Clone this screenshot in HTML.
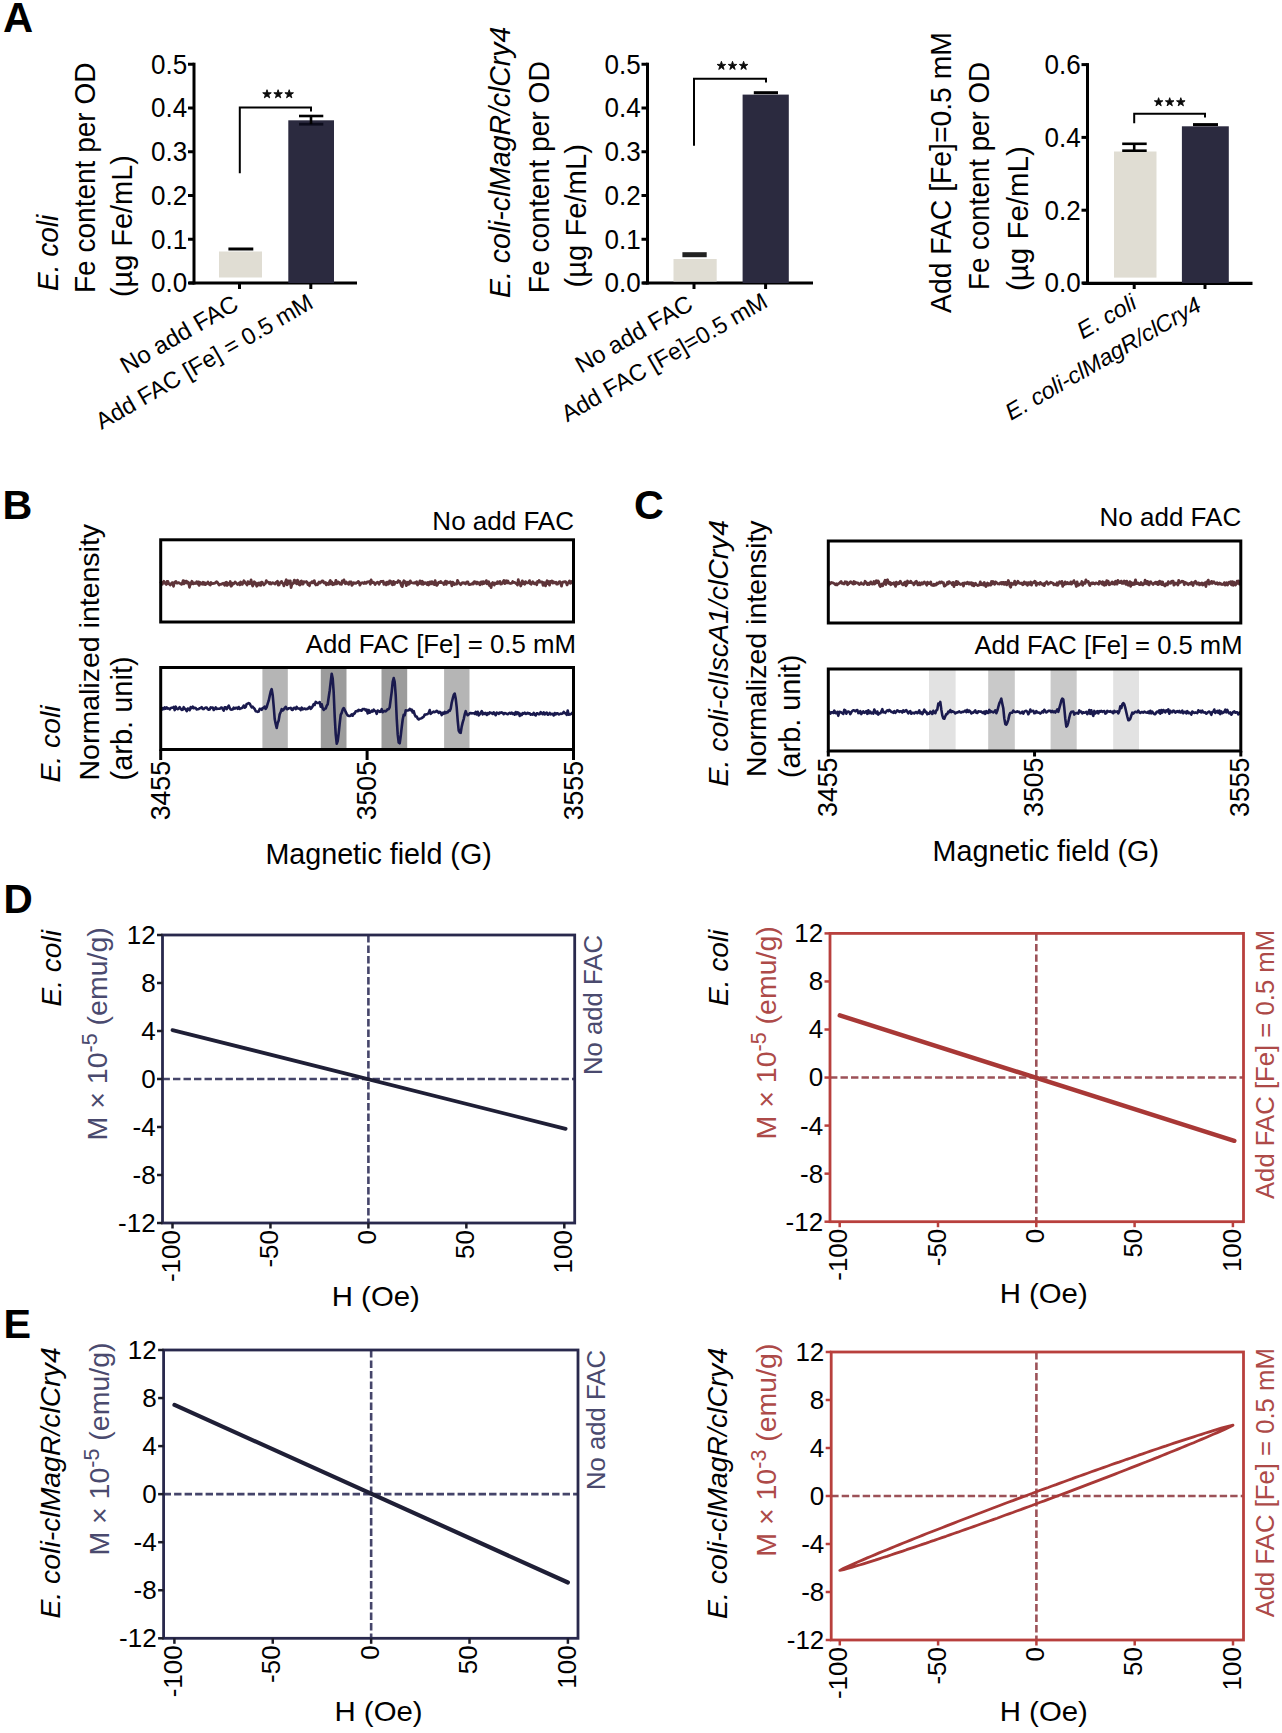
<!DOCTYPE html>
<html><head><meta charset="utf-8"><title>Figure</title>
<style>
html,body{margin:0;padding:0;background:#fff;}
svg{display:block;}
text{font-family:"Liberation Sans", sans-serif;}
</style></head>
<body>
<svg width="1282" height="1733" viewBox="0 0 1282 1733" font-family='"Liberation Sans", sans-serif'>
<rect x="0" y="0" width="1282" height="1733" fill="#fff"/>
<text x="3.00" y="32.00" font-size="41.8" text-anchor="start" fill="#000" font-weight="bold" >A</text>
<text x="2.50" y="519.00" font-size="41.3" text-anchor="start" fill="#000" font-weight="bold" >B</text>
<text x="634.00" y="519.00" font-size="41.3" text-anchor="start" fill="#000" font-weight="bold" >C</text>
<text x="3.50" y="912.50" font-size="40.5" text-anchor="start" fill="#000" font-weight="bold" >D</text>
<text x="3.50" y="1337.50" font-size="41.3" text-anchor="start" fill="#000" font-weight="bold" >E</text>
<line x1="194.00" y1="62.70" x2="194.00" y2="284.50" stroke="#000" stroke-width="3" />
<line x1="188.00" y1="283.00" x2="194.00" y2="283.00" stroke="#000" stroke-width="3" />
<text x="0" y="0" transform="translate(187.20,292.40) scale(0.930,1)" font-size="28" text-anchor="end" fill="#000" >0.0</text>
<line x1="188.00" y1="239.25" x2="194.00" y2="239.25" stroke="#000" stroke-width="3" />
<text x="0" y="0" transform="translate(187.20,248.65) scale(0.930,1)" font-size="28" text-anchor="end" fill="#000" >0.1</text>
<line x1="188.00" y1="195.50" x2="194.00" y2="195.50" stroke="#000" stroke-width="3" />
<text x="0" y="0" transform="translate(187.20,204.90) scale(0.930,1)" font-size="28" text-anchor="end" fill="#000" >0.2</text>
<line x1="188.00" y1="151.75" x2="194.00" y2="151.75" stroke="#000" stroke-width="3" />
<text x="0" y="0" transform="translate(187.20,161.15) scale(0.930,1)" font-size="28" text-anchor="end" fill="#000" >0.3</text>
<line x1="188.00" y1="108.00" x2="194.00" y2="108.00" stroke="#000" stroke-width="3" />
<text x="0" y="0" transform="translate(187.20,117.40) scale(0.930,1)" font-size="28" text-anchor="end" fill="#000" >0.4</text>
<line x1="188.00" y1="64.25" x2="194.00" y2="64.25" stroke="#000" stroke-width="3" />
<text x="0" y="0" transform="translate(187.20,73.65) scale(0.930,1)" font-size="28" text-anchor="end" fill="#000" >0.5</text>
<line x1="189.00" y1="283.00" x2="357.00" y2="283.00" stroke="#000" stroke-width="3.2" />
<line x1="239.50" y1="283.00" x2="239.50" y2="289.00" stroke="#000" stroke-width="3" />
<line x1="310.80" y1="283.00" x2="310.80" y2="289.00" stroke="#000" stroke-width="3" />
<rect x="219.00" y="251.50" width="43.00" height="26.00" fill="#e0ddd3"/>
<line x1="228.40" y1="249.00" x2="253.30" y2="249.00" stroke="#000" stroke-width="3" />
<rect x="288.30" y="120.30" width="45.70" height="162.70" fill="#2b2a3f"/>
<line x1="299.00" y1="116.00" x2="323.30" y2="116.00" stroke="#000" stroke-width="2.6" />
<line x1="299.00" y1="124.20" x2="323.30" y2="124.20" stroke="#0c0c1c" stroke-width="2.8" />
<line x1="311.00" y1="116.00" x2="311.00" y2="124.20" stroke="#000" stroke-width="2.6" />
<path d="M239.8,173.3 V107.4 H311 V111.5" stroke="#000" stroke-width="2" fill="none" />
<path d="M267.00,89.70 L268.03,92.78 L271.28,92.81 L268.66,94.74 L269.65,97.84 L267.00,95.95 L264.35,97.84 L265.34,94.74 L262.72,92.81 L265.97,92.78 Z" fill="#0a0a0a" stroke="#0a0a0a" stroke-width="0.9" stroke-linejoin="round"/>
<path d="M278.10,89.70 L279.13,92.78 L282.38,92.81 L279.76,94.74 L280.75,97.84 L278.10,95.95 L275.45,97.84 L276.44,94.74 L273.82,92.81 L277.07,92.78 Z" fill="#0a0a0a" stroke="#0a0a0a" stroke-width="0.9" stroke-linejoin="round"/>
<path d="M289.20,89.70 L290.23,92.78 L293.48,92.81 L290.86,94.74 L291.85,97.84 L289.20,95.95 L286.55,97.84 L287.54,94.74 L284.92,92.81 L288.17,92.78 Z" fill="#0a0a0a" stroke="#0a0a0a" stroke-width="0.9" stroke-linejoin="round"/>
<text x="0" y="0" transform="translate(58.00,291.00) rotate(-90) scale(0.950,1)" font-size="29.5" text-anchor="start" fill="#000" font-style="italic" >E. coli</text>
<text x="0" y="0" transform="translate(94.80,293.00) rotate(-90) scale(0.950,1)" font-size="29.5" text-anchor="start" fill="#000" >Fe content per OD</text>
<text x="0" y="0" transform="translate(131.80,297.00) rotate(-90) scale(0.980,1)" font-size="29.5" text-anchor="start" fill="#000" >(µg Fe/mL)</text>
<text x="0" y="0" transform="translate(240.00,308.50) rotate(-30)" font-size="24.1" text-anchor="end" fill="#000" >No add FAC</text>
<text x="0" y="0" transform="translate(314.80,307.00) rotate(-30)" font-size="23.5" text-anchor="end" fill="#000" >Add FAC [Fe] = 0.5 mM</text>
<line x1="647.50" y1="62.70" x2="647.50" y2="284.50" stroke="#000" stroke-width="3" />
<line x1="641.50" y1="283.00" x2="647.50" y2="283.00" stroke="#000" stroke-width="3" />
<text x="0" y="0" transform="translate(640.70,292.40) scale(0.930,1)" font-size="28" text-anchor="end" fill="#000" >0.0</text>
<line x1="641.50" y1="239.25" x2="647.50" y2="239.25" stroke="#000" stroke-width="3" />
<text x="0" y="0" transform="translate(640.70,248.65) scale(0.930,1)" font-size="28" text-anchor="end" fill="#000" >0.1</text>
<line x1="641.50" y1="195.50" x2="647.50" y2="195.50" stroke="#000" stroke-width="3" />
<text x="0" y="0" transform="translate(640.70,204.90) scale(0.930,1)" font-size="28" text-anchor="end" fill="#000" >0.2</text>
<line x1="641.50" y1="151.75" x2="647.50" y2="151.75" stroke="#000" stroke-width="3" />
<text x="0" y="0" transform="translate(640.70,161.15) scale(0.930,1)" font-size="28" text-anchor="end" fill="#000" >0.3</text>
<line x1="641.50" y1="108.00" x2="647.50" y2="108.00" stroke="#000" stroke-width="3" />
<text x="0" y="0" transform="translate(640.70,117.40) scale(0.930,1)" font-size="28" text-anchor="end" fill="#000" >0.4</text>
<line x1="641.50" y1="64.25" x2="647.50" y2="64.25" stroke="#000" stroke-width="3" />
<text x="0" y="0" transform="translate(640.70,73.65) scale(0.930,1)" font-size="28" text-anchor="end" fill="#000" >0.5</text>
<line x1="642.50" y1="283.00" x2="813.00" y2="283.00" stroke="#000" stroke-width="3.2" />
<line x1="694.00" y1="283.00" x2="694.00" y2="289.00" stroke="#000" stroke-width="3" />
<line x1="765.60" y1="283.00" x2="765.60" y2="289.00" stroke="#000" stroke-width="3" />
<rect x="673.50" y="259.00" width="43.20" height="22.50" fill="#e0ddd3"/>
<line x1="682.40" y1="254.70" x2="706.70" y2="254.70" stroke="#222" stroke-width="5" />
<rect x="742.60" y="94.60" width="46.20" height="188.40" fill="#2b2a3f"/>
<line x1="753.80" y1="92.70" x2="778.00" y2="92.70" stroke="#000" stroke-width="3" />
<path d="M694,145.7 V78.7 H766 V82.5" stroke="#000" stroke-width="2" fill="none" />
<path d="M721.40,61.30 L722.43,64.38 L725.68,64.41 L723.06,66.34 L724.05,69.44 L721.40,67.55 L718.75,69.44 L719.74,66.34 L717.12,64.41 L720.37,64.38 Z" fill="#0a0a0a" stroke="#0a0a0a" stroke-width="0.9" stroke-linejoin="round"/>
<path d="M732.50,61.30 L733.53,64.38 L736.78,64.41 L734.16,66.34 L735.15,69.44 L732.50,67.55 L729.85,69.44 L730.84,66.34 L728.22,64.41 L731.47,64.38 Z" fill="#0a0a0a" stroke="#0a0a0a" stroke-width="0.9" stroke-linejoin="round"/>
<path d="M743.60,61.30 L744.63,64.38 L747.88,64.41 L745.26,66.34 L746.25,69.44 L743.60,67.55 L740.95,69.44 L741.94,66.34 L739.32,64.41 L742.57,64.38 Z" fill="#0a0a0a" stroke="#0a0a0a" stroke-width="0.9" stroke-linejoin="round"/>
<text x="0" y="0" transform="translate(510.00,298.00) rotate(-90) scale(0.963,1)" font-size="29.5" text-anchor="start" fill="#000" font-style="italic" >E. coli-clMagR/clCry4</text>
<text x="0" y="0" transform="translate(549.00,293.30) rotate(-90) scale(0.957,1)" font-size="29.5" text-anchor="start" fill="#000" >Fe content per OD</text>
<text x="0" y="0" transform="translate(586.30,287.50) rotate(-90) scale(0.990,1)" font-size="29.5" text-anchor="start" fill="#000" >(µg Fe/mL)</text>
<text x="0" y="0" transform="translate(694.50,308.50) rotate(-30)" font-size="24" text-anchor="end" fill="#000" >No add FAC</text>
<text x="0" y="0" transform="translate(769.10,306.00) rotate(-30)" font-size="23.5" text-anchor="end" fill="#000" >Add FAC [Fe]=0.5 mM</text>
<line x1="1087.50" y1="63.10" x2="1087.50" y2="284.50" stroke="#000" stroke-width="3" />
<line x1="1081.50" y1="283.00" x2="1087.50" y2="283.00" stroke="#000" stroke-width="3" />
<text x="0" y="0" transform="translate(1080.70,292.40) scale(0.930,1)" font-size="28" text-anchor="end" fill="#000" >0.0</text>
<line x1="1081.50" y1="210.20" x2="1087.50" y2="210.20" stroke="#000" stroke-width="3" />
<text x="0" y="0" transform="translate(1080.70,219.60) scale(0.930,1)" font-size="28" text-anchor="end" fill="#000" >0.2</text>
<line x1="1081.50" y1="137.40" x2="1087.50" y2="137.40" stroke="#000" stroke-width="3" />
<text x="0" y="0" transform="translate(1080.70,146.80) scale(0.930,1)" font-size="28" text-anchor="end" fill="#000" >0.4</text>
<line x1="1081.50" y1="64.60" x2="1087.50" y2="64.60" stroke="#000" stroke-width="3" />
<text x="0" y="0" transform="translate(1080.70,74.00) scale(0.930,1)" font-size="28" text-anchor="end" fill="#000" >0.6</text>
<line x1="1082.50" y1="283.30" x2="1252.50" y2="283.30" stroke="#000" stroke-width="3.2" />
<line x1="1134.20" y1="283.00" x2="1134.20" y2="289.00" stroke="#000" stroke-width="3" />
<line x1="1205.00" y1="283.00" x2="1205.00" y2="289.00" stroke="#000" stroke-width="3" />
<rect x="1114.00" y="151.50" width="42.50" height="126.10" fill="#e0ddd3"/>
<line x1="1122.20" y1="143.80" x2="1146.70" y2="143.80" stroke="#000" stroke-width="2.6" />
<line x1="1122.20" y1="150.70" x2="1146.70" y2="150.70" stroke="#000" stroke-width="2.6" />
<line x1="1134.20" y1="143.80" x2="1134.20" y2="150.70" stroke="#000" stroke-width="2.6" />
<rect x="1181.90" y="126.30" width="46.90" height="156.70" fill="#2b2a3f"/>
<line x1="1193.00" y1="124.60" x2="1218.00" y2="124.60" stroke="#000" stroke-width="3" />
<path d="M1134.2,123.2 V113.8 H1205 V117.5" stroke="#000" stroke-width="2" fill="none" />
<path d="M1158.60,97.70 L1159.63,100.78 L1162.88,100.81 L1160.26,102.74 L1161.25,105.84 L1158.60,103.95 L1155.95,105.84 L1156.94,102.74 L1154.32,100.81 L1157.57,100.78 Z" fill="#0a0a0a" stroke="#0a0a0a" stroke-width="0.9" stroke-linejoin="round"/>
<path d="M1169.70,97.70 L1170.73,100.78 L1173.98,100.81 L1171.36,102.74 L1172.35,105.84 L1169.70,103.95 L1167.05,105.84 L1168.04,102.74 L1165.42,100.81 L1168.67,100.78 Z" fill="#0a0a0a" stroke="#0a0a0a" stroke-width="0.9" stroke-linejoin="round"/>
<path d="M1180.80,97.70 L1181.83,100.78 L1185.08,100.81 L1182.46,102.74 L1183.45,105.84 L1180.80,103.95 L1178.15,105.84 L1179.14,102.74 L1176.52,100.81 L1179.77,100.78 Z" fill="#0a0a0a" stroke="#0a0a0a" stroke-width="0.9" stroke-linejoin="round"/>
<text x="0" y="0" transform="translate(951.00,313.00) rotate(-90) scale(0.960,1)" font-size="29.5" text-anchor="start" fill="#000" >Add FAC [Fe]=0.5 mM</text>
<text x="0" y="0" transform="translate(989.00,290.00) rotate(-90) scale(0.940,1)" font-size="29.5" text-anchor="start" fill="#000" >Fe content per OD</text>
<text x="0" y="0" transform="translate(1027.50,291.00) rotate(-90)" font-size="29.5" text-anchor="start" fill="#000" >(µg Fe/mL)</text>
<text x="0" y="0" transform="translate(1138.20,307.50) rotate(-30)" font-size="23.5" text-anchor="end" fill="#000" font-style="italic" >E. coli</text>
<text x="0" y="0" transform="translate(1203.00,309.90) rotate(-30)" font-size="23.2" text-anchor="end" fill="#000" font-style="italic" >E. coli-clMagR/clCry4</text>
<rect x="262.40" y="667.50" width="25.40" height="82.00" fill="#b5b5b5"/>
<rect x="320.80" y="667.50" width="25.70" height="82.00" fill="#9c9c9c"/>
<rect x="381.50" y="667.50" width="25.70" height="82.00" fill="#9c9c9c"/>
<rect x="444.10" y="667.50" width="25.40" height="82.00" fill="#b5b5b5"/>
<path d="M160.7,581.4 L161.5,583.5 L162.3,584.3 L163.1,582.3 L163.9,581.3 L164.7,582.9 L165.5,583.6 L166.3,584.4 L167.1,581.4 L167.9,581.3 L168.7,583.9 L169.5,583.6 L170.3,585.0 L171.1,584.3 L171.9,582.9 L172.7,582.6 L173.5,586.3 L174.3,582.6 L175.1,582.0 L175.9,581.5 L176.7,583.1 L177.5,583.2 L178.3,582.6 L179.1,582.9 L179.9,583.4 L180.7,583.9 L181.5,584.4 L182.3,583.3 L183.1,580.7 L183.9,583.9 L184.7,581.2 L185.5,582.8 L186.3,581.1 L187.1,583.0 L187.9,582.0 L188.7,583.3 L189.5,587.3 L190.3,582.9 L191.1,584.1 L191.9,581.3 L192.7,582.6 L193.5,583.9 L194.3,582.9 L195.1,583.5 L195.9,583.1 L196.7,581.7 L197.5,583.7 L198.3,581.9 L199.1,585.4 L199.9,582.3 L200.7,583.9 L201.5,583.0 L202.3,584.2 L203.1,582.2 L203.9,584.3 L204.7,582.8 L205.5,584.6 L206.3,583.8 L207.1,583.2 L207.9,582.0 L208.7,584.0 L209.5,583.6 L210.3,585.1 L211.1,582.5 L211.9,583.7 L212.7,583.7 L213.5,583.4 L214.3,583.3 L215.1,583.2 L215.9,582.2 L216.7,581.7 L217.5,582.5 L218.3,583.8 L219.1,585.0 L219.9,584.3 L220.7,584.4 L221.5,584.0 L222.3,583.9 L223.1,583.2 L223.9,584.0 L224.7,585.3 L225.5,582.6 L226.3,582.1 L227.1,585.5 L227.9,583.3 L228.7,584.3 L229.5,584.1 L230.3,581.5 L231.1,586.2 L231.9,585.3 L232.7,583.2 L233.5,584.0 L234.3,583.2 L235.1,581.9 L235.9,582.9 L236.7,583.5 L237.5,584.5 L238.3,583.9 L239.1,583.1 L239.9,584.8 L240.7,582.0 L241.5,584.0 L242.3,584.4 L243.1,582.6 L243.9,580.7 L244.7,581.8 L245.5,583.3 L246.3,583.7 L247.1,585.0 L247.9,581.7 L248.7,583.0 L249.5,583.8 L250.3,582.8 L251.1,579.9 L251.9,584.0 L252.7,586.0 L253.5,584.3 L254.3,581.8 L255.1,582.5 L255.9,583.3 L256.7,586.2 L257.5,583.8 L258.3,583.1 L259.1,585.0 L259.9,582.9 L260.7,585.4 L261.5,582.1 L262.3,582.4 L263.1,583.9 L263.9,584.9 L264.7,583.9 L265.5,583.4 L266.3,580.6 L267.1,582.1 L267.9,582.2 L268.7,582.3 L269.5,583.8 L270.3,582.6 L271.1,584.0 L271.9,583.1 L272.7,582.6 L273.5,583.2 L274.3,583.6 L275.1,584.1 L275.9,582.4 L276.7,582.7 L277.5,581.2 L278.3,585.1 L279.1,584.9 L279.9,582.8 L280.7,582.4 L281.5,581.4 L282.3,583.2 L283.1,583.3 L283.9,585.8 L284.7,583.3 L285.5,582.0 L286.3,579.8 L287.1,584.8 L287.9,583.2 L288.7,580.9 L289.5,583.2 L290.3,580.9 L291.1,587.5 L291.9,584.5 L292.7,583.7 L293.5,582.8 L294.3,580.2 L295.1,582.8 L295.9,581.0 L296.7,583.8 L297.5,580.2 L298.3,581.8 L299.1,584.6 L299.9,585.1 L300.7,581.5 L301.5,581.0 L302.3,584.1 L303.1,584.1 L303.9,581.7 L304.7,582.1 L305.5,582.1 L306.3,581.5 L307.1,582.1 L307.9,584.6 L308.7,583.9 L309.5,585.7 L310.3,582.9 L311.1,582.8 L311.9,581.7 L312.7,582.8 L313.5,581.3 L314.3,580.7 L315.1,583.9 L315.9,584.9 L316.7,584.1 L317.5,584.7 L318.3,583.3 L319.1,582.1 L319.9,583.1 L320.7,582.5 L321.5,581.6 L322.3,580.8 L323.1,581.1 L323.9,583.0 L324.7,583.2 L325.5,582.4 L326.3,584.9 L327.1,583.2 L327.9,583.8 L328.7,584.6 L329.5,581.9 L330.3,580.4 L331.1,584.0 L331.9,582.1 L332.7,584.7 L333.5,583.4 L334.3,584.3 L335.1,584.0 L335.9,580.3 L336.7,583.9 L337.5,582.1 L338.3,582.0 L339.1,582.4 L339.9,584.0 L340.7,584.1 L341.5,584.3 L342.3,580.8 L343.1,582.2 L343.9,579.9 L344.7,582.9 L345.5,583.8 L346.3,582.0 L347.1,583.3 L347.9,583.3 L348.7,584.3 L349.5,581.9 L350.3,581.9 L351.1,582.0 L351.9,585.3 L352.7,584.4 L353.5,582.8 L354.3,583.3 L355.1,583.1 L355.9,583.3 L356.7,582.7 L357.5,582.6 L358.3,581.4 L359.1,582.2 L359.9,585.1 L360.7,583.7 L361.5,583.1 L362.3,582.7 L363.1,583.1 L363.9,583.5 L364.7,582.2 L365.5,583.3 L366.3,583.3 L367.1,582.0 L367.9,582.0 L368.7,581.7 L369.5,581.6 L370.3,584.2 L371.1,579.9 L371.9,582.7 L372.7,582.2 L373.5,582.2 L374.3,583.1 L375.1,584.5 L375.9,583.1 L376.7,582.8 L377.5,582.2 L378.3,582.8 L379.1,584.2 L379.9,582.5 L380.7,581.5 L381.5,581.4 L382.3,581.6 L383.1,581.2 L383.9,584.4 L384.7,583.5 L385.5,582.7 L386.3,584.9 L387.1,582.1 L387.9,584.0 L388.7,584.0 L389.5,581.0 L390.3,581.0 L391.1,581.8 L391.9,584.2 L392.7,584.7 L393.5,581.4 L394.3,584.4 L395.1,582.5 L395.9,582.5 L396.7,582.3 L397.5,582.6 L398.3,580.6 L399.1,581.7 L399.9,581.4 L400.7,583.6 L401.5,585.7 L402.3,586.6 L403.1,582.6 L403.9,580.8 L404.7,582.5 L405.5,581.8 L406.3,585.6 L407.1,583.7 L407.9,582.1 L408.7,584.2 L409.5,583.7 L410.3,580.9 L411.1,582.3 L411.9,582.7 L412.7,583.0 L413.5,583.2 L414.3,582.6 L415.1,583.2 L415.9,582.2 L416.7,581.8 L417.5,585.0 L418.3,583.5 L419.1,583.6 L419.9,580.9 L420.7,582.8 L421.5,584.1 L422.3,581.3 L423.1,584.4 L423.9,582.5 L424.7,583.5 L425.5,582.8 L426.3,583.3 L427.1,584.6 L427.9,582.5 L428.7,585.0 L429.5,582.0 L430.3,581.8 L431.1,583.9 L431.9,581.6 L432.7,582.5 L433.5,584.2 L434.3,584.6 L435.1,580.7 L435.9,583.7 L436.7,585.4 L437.5,584.6 L438.3,582.7 L439.1,582.2 L439.9,582.6 L440.7,581.5 L441.5,582.7 L442.3,582.8 L443.1,582.8 L443.9,584.5 L444.7,582.7 L445.5,581.1 L446.3,584.4 L447.1,581.6 L447.9,582.4 L448.7,582.8 L449.5,582.6 L450.3,581.7 L451.1,582.7 L451.9,585.8 L452.7,582.2 L453.5,582.8 L454.3,584.5 L455.1,584.0 L455.9,584.0 L456.7,584.1 L457.5,580.4 L458.3,581.9 L459.1,583.2 L459.9,583.6 L460.7,584.7 L461.5,583.6 L462.3,582.7 L463.1,583.1 L463.9,582.7 L464.7,583.3 L465.5,583.9 L466.3,582.6 L467.1,581.9 L467.9,581.9 L468.7,584.4 L469.5,584.7 L470.3,584.3 L471.1,584.1 L471.9,584.1 L472.7,583.0 L473.5,583.9 L474.3,581.6 L475.1,582.7 L475.9,582.0 L476.7,583.9 L477.5,582.2 L478.3,582.9 L479.1,583.5 L479.9,584.8 L480.7,582.0 L481.5,581.8 L482.3,584.1 L483.1,581.6 L483.9,583.6 L484.7,582.3 L485.5,582.9 L486.3,580.6 L487.1,583.9 L487.9,582.3 L488.7,581.8 L489.5,585.7 L490.3,583.9 L491.1,587.6 L491.9,583.5 L492.7,582.5 L493.5,583.1 L494.3,585.1 L495.1,583.0 L495.9,583.6 L496.7,583.7 L497.5,581.8 L498.3,583.2 L499.1,582.3 L499.9,581.4 L500.7,584.1 L501.5,583.9 L502.3,583.1 L503.1,581.8 L503.9,580.4 L504.7,583.6 L505.5,582.9 L506.3,580.8 L507.1,582.9 L507.9,581.0 L508.7,583.0 L509.5,583.2 L510.3,583.5 L511.1,583.3 L511.9,583.2 L512.7,581.5 L513.5,582.5 L514.3,582.3 L515.1,582.7 L515.9,583.4 L516.7,583.8 L517.5,585.1 L518.3,579.7 L519.1,583.5 L519.9,582.7 L520.7,586.0 L521.5,584.2 L522.3,580.9 L523.1,583.5 L523.9,582.3 L524.7,584.3 L525.5,581.6 L526.3,582.9 L527.1,582.8 L527.9,582.9 L528.7,582.2 L529.5,580.6 L530.3,583.6 L531.1,584.3 L531.9,582.9 L532.7,581.7 L533.5,583.3 L534.3,583.7 L535.1,582.8 L535.9,583.0 L536.7,584.8 L537.5,581.5 L538.3,582.3 L539.1,580.5 L539.9,582.1 L540.7,582.0 L541.5,581.8 L542.3,582.1 L543.1,585.3 L543.9,582.7 L544.7,582.9 L545.5,585.9 L546.3,582.9 L547.1,580.7 L547.9,583.5 L548.7,581.8 L549.5,585.1 L550.3,581.4 L551.1,582.2 L551.9,580.9 L552.7,583.1 L553.5,581.7 L554.3,582.9 L555.1,582.5 L555.9,582.2 L556.7,584.2 L557.5,584.2 L558.3,583.1 L559.1,581.8 L559.9,581.6 L560.7,583.4 L561.5,586.1 L562.3,582.4 L563.1,582.0 L563.9,582.1 L564.7,581.6 L565.5,581.7 L566.3,582.7 L567.1,584.9 L567.9,583.0 L568.7,582.3 L569.5,580.9 L570.3,583.3 L571.1,583.0 L571.9,581.4 L572.7,581.6" stroke="#5e3439" stroke-width="2.8" fill="none" stroke-linejoin="round"/>
<path d="M160.7,709.1 L161.7,709.8 L162.7,708.2 L163.7,709.1 L164.7,707.3 L165.7,708.6 L166.7,707.4 L167.7,708.6 L168.7,708.4 L169.7,709.3 L170.7,708.2 L171.7,707.7 L172.7,707.7 L173.7,706.9 L174.7,710.1 L175.7,706.7 L176.7,708.6 L177.7,709.2 L178.7,708.4 L179.7,707.2 L180.7,708.9 L181.7,709.9 L182.7,709.8 L183.7,707.1 L184.7,708.7 L185.7,709.3 L186.7,711.2 L187.7,708.6 L188.7,708.8 L189.7,710.1 L190.7,707.2 L191.7,708.2 L192.7,706.7 L193.7,708.2 L194.7,707.8 L195.7,708.0 L196.7,709.4 L197.7,709.3 L198.7,709.0 L199.7,708.2 L200.7,707.9 L201.7,707.2 L202.7,708.9 L203.7,709.1 L204.7,708.1 L205.7,707.5 L206.7,707.5 L207.7,709.1 L208.7,709.8 L209.7,709.4 L210.7,707.4 L211.7,707.8 L212.7,707.5 L213.7,710.0 L214.7,709.1 L215.7,707.4 L216.7,709.0 L217.7,708.8 L218.7,708.7 L219.7,708.8 L220.7,707.8 L221.7,707.5 L222.7,709.1 L223.7,710.6 L224.7,707.3 L225.7,707.2 L226.7,709.1 L227.7,707.1 L228.7,705.6 L229.7,708.0 L230.7,709.5 L231.7,709.6 L232.7,709.4 L233.7,707.7 L234.7,708.7 L235.7,707.9 L236.7,707.8 L237.7,708.8 L238.7,707.0 L239.7,709.0 L240.7,708.4 L241.7,708.1 L242.7,707.4 L243.7,705.5 L244.7,707.7 L245.7,707.0 L246.7,703.9 L247.7,703.7 L248.7,703.1 L249.7,703.7 L250.7,705.6 L251.7,707.3 L252.7,706.7 L253.7,708.0 L254.7,709.0 L255.7,711.2 L256.7,711.4 L257.7,711.9 L258.7,711.5 L259.7,708.9 L260.7,709.0 L261.7,709.8 L262.7,708.0 L263.7,707.9 L264.7,706.6 L265.7,708.9 L266.7,707.1 L267.7,703.7 L268.7,700.7 L269.7,696.0 L270.7,691.6 L271.7,689.1 L272.7,695.1 L273.7,706.4 L274.7,719.0 L275.7,723.9 L276.7,727.9 L277.7,722.9 L278.7,720.4 L279.7,714.2 L280.7,711.9 L281.7,709.2 L282.7,710.5 L283.7,709.5 L284.7,708.0 L285.7,706.8 L286.7,709.1 L287.7,709.1 L288.7,708.2 L289.7,708.3 L290.7,707.9 L291.7,709.7 L292.7,710.0 L293.7,707.9 L294.7,707.7 L295.7,709.1 L296.7,706.9 L297.7,708.4 L298.7,708.6 L299.7,708.5 L300.7,710.1 L301.7,707.7 L302.7,709.3 L303.7,708.8 L304.7,708.5 L305.7,709.3 L306.7,708.8 L307.7,708.9 L308.7,707.7 L309.7,706.8 L310.7,708.8 L311.7,707.8 L312.7,706.2 L313.7,704.2 L314.7,704.9 L315.7,701.9 L316.7,702.6 L317.7,703.0 L318.7,702.9 L319.7,702.1 L320.7,706.8 L321.7,704.3 L322.7,708.2 L323.7,709.8 L324.7,708.8 L325.7,708.6 L326.7,705.8 L327.7,704.3 L328.7,697.2 L329.7,690.5 L330.7,681.8 L331.7,673.7 L332.7,678.6 L333.7,692.7 L334.7,716.4 L335.7,734.1 L336.7,743.7 L337.7,741.0 L338.7,733.1 L339.7,723.4 L340.7,714.8 L341.7,712.9 L342.7,709.5 L343.7,708.0 L344.7,709.8 L345.7,712.0 L346.7,713.8 L347.7,715.5 L348.7,715.9 L349.7,716.0 L350.7,715.6 L351.7,714.3 L352.7,715.6 L353.7,713.6 L354.7,713.6 L355.7,711.2 L356.7,711.1 L357.7,711.3 L358.7,709.8 L359.7,710.4 L360.7,710.3 L361.7,710.7 L362.7,709.0 L363.7,709.3 L364.7,709.0 L365.7,710.4 L366.7,709.6 L367.7,713.5 L368.7,710.0 L369.7,712.7 L370.7,712.0 L371.7,710.7 L372.7,711.5 L373.7,709.7 L374.7,710.8 L375.7,711.3 L376.7,713.9 L377.7,710.6 L378.7,710.9 L379.7,711.9 L380.7,711.8 L381.7,709.1 L382.7,712.2 L383.7,711.2 L384.7,711.0 L385.7,711.4 L386.7,710.4 L387.7,709.2 L388.7,709.3 L389.7,707.2 L390.7,699.3 L391.7,691.8 L392.7,681.9 L393.7,678.0 L394.7,682.0 L395.7,695.3 L396.7,718.0 L397.7,734.4 L398.7,742.5 L399.7,743.3 L400.7,736.1 L401.7,727.3 L402.7,719.5 L403.7,714.8 L404.7,715.2 L405.7,710.4 L406.7,710.5 L407.7,710.5 L408.7,710.3 L409.7,708.9 L410.7,710.2 L411.7,709.5 L412.7,712.5 L413.7,711.1 L414.7,714.7 L415.7,716.5 L416.7,716.6 L417.7,718.6 L418.7,719.5 L419.7,718.7 L420.7,718.5 L421.7,718.1 L422.7,717.4 L423.7,716.7 L424.7,714.6 L425.7,714.7 L426.7,714.2 L427.7,713.9 L428.7,713.0 L429.7,710.1 L430.7,713.8 L431.7,712.9 L432.7,712.3 L433.7,711.5 L434.7,712.1 L435.7,711.7 L436.7,710.8 L437.7,711.6 L438.7,713.0 L439.7,711.8 L440.7,712.5 L441.7,715.1 L442.7,712.8 L443.7,713.8 L444.7,711.9 L445.7,713.2 L446.7,712.2 L447.7,712.4 L448.7,710.5 L449.7,710.9 L450.7,708.7 L451.7,702.8 L452.7,698.7 L453.7,695.0 L454.7,693.5 L455.7,698.5 L456.7,707.4 L457.7,720.5 L458.7,730.6 L459.7,732.5 L460.7,732.8 L461.7,726.6 L462.7,722.4 L463.7,719.1 L464.7,714.4 L465.7,711.2 L466.7,713.9 L467.7,715.2 L468.7,714.5 L469.7,713.3 L470.7,713.0 L471.7,713.4 L472.7,713.3 L473.7,713.2 L474.7,713.8 L475.7,711.9 L476.7,714.4 L477.7,711.8 L478.7,715.4 L479.7,714.4 L480.7,712.8 L481.7,711.2 L482.7,714.4 L483.7,712.8 L484.7,713.9 L485.7,713.0 L486.7,715.0 L487.7,713.2 L488.7,714.0 L489.7,712.3 L490.7,712.8 L491.7,713.2 L492.7,713.9 L493.7,712.3 L494.7,713.8 L495.7,715.2 L496.7,712.6 L497.7,713.0 L498.7,713.9 L499.7,712.5 L500.7,713.0 L501.7,712.4 L502.7,712.9 L503.7,714.2 L504.7,713.0 L505.7,713.2 L506.7,713.9 L507.7,714.3 L508.7,713.4 L509.7,712.9 L510.7,713.6 L511.7,712.6 L512.7,714.0 L513.7,713.3 L514.7,714.6 L515.7,712.0 L516.7,714.2 L517.7,712.3 L518.7,712.8 L519.7,715.9 L520.7,713.8 L521.7,715.0 L522.7,713.2 L523.7,713.7 L524.7,712.7 L525.7,713.9 L526.7,713.7 L527.7,712.8 L528.7,713.6 L529.7,713.3 L530.7,714.7 L531.7,714.2 L532.7,714.7 L533.7,712.9 L534.7,714.7 L535.7,715.4 L536.7,713.4 L537.7,713.4 L538.7,714.2 L539.7,714.2 L540.7,712.2 L541.7,713.3 L542.7,714.2 L543.7,712.3 L544.7,714.5 L545.7,713.2 L546.7,712.7 L547.7,714.7 L548.7,714.4 L549.7,712.9 L550.7,714.4 L551.7,713.8 L552.7,714.1 L553.7,715.5 L554.7,713.0 L555.7,714.5 L556.7,713.2 L557.7,713.3 L558.7,714.5 L559.7,714.1 L560.7,713.5 L561.7,713.9 L562.7,713.4 L563.7,711.9 L564.7,713.1 L565.7,713.2 L566.7,714.8 L567.7,710.5 L568.7,714.7 L569.7,714.5 L570.7,714.0 L571.7,713.7 L572.7,712.2" stroke="#1a1a4e" stroke-width="2.6" fill="none" stroke-linejoin="round"/>
<rect x="160.70" y="539.80" width="412.80" height="82.20" fill="none" stroke="#000" stroke-width="3"/>
<rect x="160.70" y="667.50" width="412.80" height="82.00" fill="none" stroke="#000" stroke-width="3"/>
<line x1="160.70" y1="749.50" x2="160.70" y2="760.00" stroke="#000" stroke-width="3" />
<line x1="367.10" y1="749.50" x2="367.10" y2="760.00" stroke="#000" stroke-width="3" />
<line x1="573.50" y1="749.50" x2="573.50" y2="760.00" stroke="#000" stroke-width="3" />
<text x="574.00" y="529.60" font-size="26" text-anchor="end" fill="#000" >No add FAC</text>
<text x="576.00" y="652.90" font-size="25.8" text-anchor="end" fill="#000" >Add FAC [Fe] = 0.5 mM</text>
<text x="0" y="0" transform="translate(169.70,761.00) rotate(-90) scale(0.970,1)" font-size="27.5" text-anchor="end" fill="#000" >3455</text>
<text x="0" y="0" transform="translate(376.10,761.00) rotate(-90) scale(0.970,1)" font-size="27.5" text-anchor="end" fill="#000" >3505</text>
<text x="0" y="0" transform="translate(582.50,761.00) rotate(-90) scale(0.970,1)" font-size="27.5" text-anchor="end" fill="#000" >3555</text>
<text x="378.60" y="863.80" font-size="28.7" text-anchor="middle" fill="#000" >Magnetic field (G)</text>
<text x="0" y="0" transform="translate(60.40,782.50) rotate(-90)" font-size="28.3" text-anchor="start" fill="#000" font-style="italic" >E. coli</text>
<text x="0" y="0" transform="translate(99.30,780.50) rotate(-90)" font-size="28.5" text-anchor="start" fill="#000" >Normalized intensity</text>
<text x="0" y="0" transform="translate(131.80,780.50) rotate(-90)" font-size="29" text-anchor="start" fill="#000" >(arb. unit)</text>
<rect x="929.00" y="669.00" width="26.60" height="82.00" fill="#e2e2e2"/>
<rect x="988.20" y="669.00" width="26.60" height="82.00" fill="#c9c9c9"/>
<rect x="1050.60" y="669.00" width="26.10" height="82.00" fill="#c9c9c9"/>
<rect x="1113.20" y="669.00" width="25.80" height="82.00" fill="#e2e2e2"/>
<path d="M828.3,586.3 L829.1,582.1 L829.9,583.9 L830.7,583.2 L831.5,582.4 L832.3,582.8 L833.1,582.8 L833.9,583.4 L834.7,584.0 L835.5,584.8 L836.3,583.8 L837.1,584.9 L837.9,584.0 L838.7,583.6 L839.5,583.2 L840.3,582.2 L841.1,581.4 L841.9,583.3 L842.7,583.2 L843.5,583.8 L844.3,583.9 L845.1,581.8 L845.9,582.5 L846.7,582.0 L847.5,584.7 L848.3,583.3 L849.1,583.6 L849.9,582.3 L850.7,581.8 L851.5,582.7 L852.3,583.3 L853.1,584.0 L853.9,581.5 L854.7,583.8 L855.5,582.3 L856.3,582.7 L857.1,583.0 L857.9,582.9 L858.7,584.0 L859.5,584.5 L860.3,583.8 L861.1,582.7 L861.9,583.9 L862.7,583.9 L863.5,584.5 L864.3,583.8 L865.1,581.3 L865.9,582.4 L866.7,582.9 L867.5,584.6 L868.3,583.2 L869.1,584.6 L869.9,583.8 L870.7,581.9 L871.5,583.5 L872.3,584.1 L873.1,583.9 L873.9,581.5 L874.7,584.0 L875.5,582.7 L876.3,580.7 L877.1,582.7 L877.9,580.9 L878.7,581.8 L879.5,585.3 L880.3,586.6 L881.1,584.8 L881.9,584.0 L882.7,585.8 L883.5,583.8 L884.3,582.2 L885.1,580.3 L885.9,584.6 L886.7,580.5 L887.5,579.7 L888.3,582.6 L889.1,583.5 L889.9,582.3 L890.7,584.7 L891.5,583.3 L892.3,583.7 L893.1,584.0 L893.9,582.7 L894.7,583.7 L895.5,586.4 L896.3,582.2 L897.1,583.6 L897.9,584.1 L898.7,582.7 L899.5,583.4 L900.3,581.2 L901.1,582.9 L901.9,583.5 L902.7,584.9 L903.5,584.6 L904.3,582.7 L905.1,582.0 L905.9,585.8 L906.7,584.6 L907.5,581.0 L908.3,583.0 L909.1,582.3 L909.9,582.6 L910.7,581.2 L911.5,582.9 L912.3,582.8 L913.1,583.1 L913.9,584.8 L914.7,583.7 L915.5,581.9 L916.3,581.2 L917.1,582.7 L917.9,584.9 L918.7,584.7 L919.5,582.7 L920.3,584.9 L921.1,584.0 L921.9,582.7 L922.7,584.0 L923.5,583.3 L924.3,582.0 L925.1,582.9 L925.9,583.7 L926.7,585.2 L927.5,582.1 L928.3,583.8 L929.1,583.5 L929.9,583.4 L930.7,581.9 L931.5,585.1 L932.3,585.1 L933.1,585.5 L933.9,584.1 L934.7,585.4 L935.5,584.2 L936.3,584.8 L937.1,583.0 L937.9,583.8 L938.7,583.0 L939.5,582.1 L940.3,582.9 L941.1,582.0 L941.9,582.0 L942.7,583.0 L943.5,582.7 L944.3,586.2 L945.1,585.8 L945.9,584.9 L946.7,584.5 L947.5,582.3 L948.3,583.8 L949.1,581.6 L949.9,582.6 L950.7,582.8 L951.5,583.0 L952.3,584.6 L953.1,582.4 L953.9,586.6 L954.7,582.8 L955.5,584.6 L956.3,581.4 L957.1,584.7 L957.9,581.9 L958.7,583.7 L959.5,583.5 L960.3,584.5 L961.1,584.3 L961.9,584.0 L962.7,583.3 L963.5,586.0 L964.3,582.9 L965.1,583.5 L965.9,582.9 L966.7,583.7 L967.5,582.2 L968.3,582.9 L969.1,584.1 L969.9,582.7 L970.7,584.1 L971.5,582.7 L972.3,585.3 L973.1,583.3 L973.9,585.8 L974.7,584.1 L975.5,583.3 L976.3,584.7 L977.1,585.0 L977.9,585.5 L978.7,585.3 L979.5,584.6 L980.3,581.9 L981.1,584.7 L981.9,583.4 L982.7,584.0 L983.5,585.1 L984.3,582.5 L985.1,585.2 L985.9,586.6 L986.7,584.2 L987.5,583.1 L988.3,585.3 L989.1,583.7 L989.9,584.9 L990.7,585.1 L991.5,581.5 L992.3,583.9 L993.1,581.5 L993.9,582.6 L994.7,584.3 L995.5,581.9 L996.3,582.5 L997.1,582.9 L997.9,583.9 L998.7,583.9 L999.5,584.0 L1000.3,582.8 L1001.1,582.5 L1001.9,584.0 L1002.7,582.3 L1003.5,582.4 L1004.3,584.4 L1005.1,582.4 L1005.9,582.3 L1006.7,584.9 L1007.5,583.4 L1008.3,580.5 L1009.1,582.5 L1009.9,586.0 L1010.7,587.2 L1011.5,583.1 L1012.3,584.4 L1013.1,584.4 L1013.9,583.9 L1014.7,581.1 L1015.5,584.8 L1016.3,583.8 L1017.1,583.1 L1017.9,581.3 L1018.7,582.6 L1019.5,583.3 L1020.3,583.1 L1021.1,583.7 L1021.9,582.9 L1022.7,584.8 L1023.5,584.3 L1024.3,581.9 L1025.1,582.7 L1025.9,584.0 L1026.7,582.7 L1027.5,585.3 L1028.3,582.7 L1029.1,583.8 L1029.9,584.2 L1030.7,582.0 L1031.5,585.1 L1032.3,583.2 L1033.1,582.5 L1033.9,582.5 L1034.7,581.2 L1035.5,581.7 L1036.3,585.4 L1037.1,583.3 L1037.9,583.1 L1038.7,583.7 L1039.5,584.2 L1040.3,582.4 L1041.1,583.2 L1041.9,583.8 L1042.7,584.8 L1043.5,583.8 L1044.3,585.6 L1045.1,583.2 L1045.9,583.0 L1046.7,581.6 L1047.5,583.4 L1048.3,584.3 L1049.1,583.1 L1049.9,583.2 L1050.7,582.2 L1051.5,582.7 L1052.3,582.9 L1053.1,583.3 L1053.9,584.8 L1054.7,584.1 L1055.5,584.6 L1056.3,585.0 L1057.1,582.8 L1057.9,585.2 L1058.7,583.5 L1059.5,581.7 L1060.3,582.7 L1061.1,583.3 L1061.9,581.4 L1062.7,586.4 L1063.5,583.4 L1064.3,584.6 L1065.1,581.9 L1065.9,583.6 L1066.7,583.8 L1067.5,582.4 L1068.3,583.8 L1069.1,583.4 L1069.9,583.9 L1070.7,581.9 L1071.5,584.1 L1072.3,583.1 L1073.1,582.3 L1073.9,580.6 L1074.7,583.2 L1075.5,582.9 L1076.3,586.5 L1077.1,581.9 L1077.9,585.4 L1078.7,585.1 L1079.5,584.0 L1080.3,583.8 L1081.1,584.1 L1081.9,581.5 L1082.7,585.3 L1083.5,583.0 L1084.3,582.5 L1085.1,583.4 L1085.9,579.9 L1086.7,581.7 L1087.5,581.9 L1088.3,581.4 L1089.1,584.2 L1089.9,585.5 L1090.7,583.4 L1091.5,583.0 L1092.3,583.8 L1093.1,582.8 L1093.9,583.6 L1094.7,584.0 L1095.5,583.1 L1096.3,582.9 L1097.1,583.5 L1097.9,583.5 L1098.7,584.3 L1099.5,581.5 L1100.3,582.0 L1101.1,582.8 L1101.9,584.0 L1102.7,581.7 L1103.5,585.0 L1104.3,585.3 L1105.1,582.5 L1105.9,584.9 L1106.7,580.7 L1107.5,583.3 L1108.3,581.3 L1109.1,584.8 L1109.9,584.5 L1110.7,584.1 L1111.5,582.6 L1112.3,581.9 L1113.1,583.9 L1113.9,582.7 L1114.7,584.3 L1115.5,581.3 L1116.3,583.9 L1117.1,584.1 L1117.9,580.4 L1118.7,581.7 L1119.5,582.5 L1120.3,582.6 L1121.1,581.1 L1121.9,583.4 L1122.7,581.9 L1123.5,583.3 L1124.3,581.0 L1125.1,581.8 L1125.9,584.3 L1126.7,581.1 L1127.5,583.3 L1128.3,585.3 L1129.1,584.4 L1129.9,581.6 L1130.7,586.3 L1131.5,582.6 L1132.3,584.6 L1133.1,584.6 L1133.9,582.9 L1134.7,584.2 L1135.5,579.8 L1136.3,583.5 L1137.1,583.6 L1137.9,582.9 L1138.7,583.5 L1139.5,584.7 L1140.3,584.6 L1141.1,582.5 L1141.9,584.4 L1142.7,584.9 L1143.5,583.5 L1144.3,583.9 L1145.1,580.2 L1145.9,581.3 L1146.7,583.8 L1147.5,581.4 L1148.3,584.5 L1149.1,584.9 L1149.9,582.1 L1150.7,581.8 L1151.5,583.1 L1152.3,583.6 L1153.1,584.4 L1153.9,583.1 L1154.7,583.4 L1155.5,582.1 L1156.3,583.7 L1157.1,582.3 L1157.9,584.6 L1158.7,584.3 L1159.5,581.2 L1160.3,583.8 L1161.1,581.9 L1161.9,584.6 L1162.7,582.0 L1163.5,585.0 L1164.3,584.7 L1165.1,585.9 L1165.9,583.8 L1166.7,583.4 L1167.5,584.9 L1168.3,581.7 L1169.1,583.3 L1169.9,582.9 L1170.7,583.3 L1171.5,581.3 L1172.3,581.2 L1173.1,581.1 L1173.9,585.2 L1174.7,582.9 L1175.5,584.1 L1176.3,583.2 L1177.1,583.0 L1177.9,585.0 L1178.7,580.3 L1179.5,583.0 L1180.3,582.3 L1181.1,582.1 L1181.9,581.2 L1182.7,581.3 L1183.5,581.8 L1184.3,584.7 L1185.1,582.4 L1185.9,582.7 L1186.7,583.1 L1187.5,584.1 L1188.3,584.7 L1189.1,583.6 L1189.9,583.3 L1190.7,584.0 L1191.5,582.3 L1192.3,583.6 L1193.1,585.5 L1193.9,582.5 L1194.7,582.2 L1195.5,581.3 L1196.3,583.4 L1197.1,584.1 L1197.9,582.8 L1198.7,582.9 L1199.5,584.9 L1200.3,583.4 L1201.1,584.2 L1201.9,582.9 L1202.7,585.0 L1203.5,584.5 L1204.3,583.1 L1205.1,582.6 L1205.9,586.6 L1206.7,581.9 L1207.5,582.1 L1208.3,580.1 L1209.1,584.2 L1209.9,583.4 L1210.7,583.2 L1211.5,581.4 L1212.3,583.4 L1213.1,582.3 L1213.9,581.8 L1214.7,583.0 L1215.5,583.7 L1216.3,583.2 L1217.1,582.7 L1217.9,584.3 L1218.7,583.7 L1219.5,582.9 L1220.3,584.1 L1221.1,583.7 L1221.9,584.5 L1222.7,584.4 L1223.5,584.3 L1224.3,582.6 L1225.1,585.1 L1225.9,584.6 L1226.7,582.7 L1227.5,585.0 L1228.3,583.5 L1229.1,582.1 L1229.9,583.3 L1230.7,581.7 L1231.5,584.8 L1232.3,581.7 L1233.1,585.3 L1233.9,582.2 L1234.7,583.2 L1235.5,585.0 L1236.3,583.8 L1237.1,581.2 L1237.9,583.2 L1238.7,581.0 L1239.5,584.2 L1240.3,582.1" stroke="#5e3439" stroke-width="2.8" fill="none" stroke-linejoin="round"/>
<path d="M828.3,711.0 L829.3,711.8 L830.3,713.7 L831.3,712.3 L832.3,712.2 L833.3,712.9 L834.3,710.6 L835.3,713.0 L836.3,713.3 L837.3,711.9 L838.3,715.8 L839.3,711.8 L840.3,712.0 L841.3,712.5 L842.3,713.2 L843.3,713.9 L844.3,709.8 L845.3,710.4 L846.3,713.7 L847.3,711.7 L848.3,711.6 L849.3,711.9 L850.3,714.1 L851.3,712.3 L852.3,711.0 L853.3,710.2 L854.3,710.4 L855.3,711.3 L856.3,710.4 L857.3,710.0 L858.3,713.1 L859.3,712.9 L860.3,711.2 L861.3,714.1 L862.3,712.7 L863.3,711.4 L864.3,712.8 L865.3,712.4 L866.3,711.2 L867.3,713.9 L868.3,710.3 L869.3,713.1 L870.3,711.5 L871.3,713.4 L872.3,712.7 L873.3,713.6 L874.3,709.6 L875.3,711.8 L876.3,713.4 L877.3,711.5 L878.3,714.6 L879.3,713.2 L880.3,713.3 L881.3,711.5 L882.3,709.2 L883.3,712.3 L884.3,712.0 L885.3,712.9 L886.3,711.4 L887.3,710.3 L888.3,711.1 L889.3,709.9 L890.3,710.8 L891.3,711.9 L892.3,712.1 L893.3,712.8 L894.3,711.1 L895.3,712.9 L896.3,711.9 L897.3,710.3 L898.3,710.8 L899.3,711.9 L900.3,711.2 L901.3,711.2 L902.3,712.5 L903.3,710.4 L904.3,711.6 L905.3,710.9 L906.3,710.1 L907.3,711.8 L908.3,713.4 L909.3,711.6 L910.3,711.2 L911.3,713.7 L912.3,712.8 L913.3,712.7 L914.3,713.5 L915.3,712.3 L916.3,712.0 L917.3,713.2 L918.3,712.4 L919.3,710.3 L920.3,713.3 L921.3,712.3 L922.3,714.2 L923.3,712.1 L924.3,709.7 L925.3,712.1 L926.3,711.8 L927.3,714.2 L928.3,713.6 L929.3,713.8 L930.3,711.6 L931.3,712.3 L932.3,714.0 L933.3,710.8 L934.3,712.5 L935.3,713.2 L936.3,710.5 L937.3,709.5 L938.3,703.6 L939.3,705.0 L940.3,701.9 L941.3,709.4 L942.3,715.4 L943.3,718.3 L944.3,718.7 L945.3,716.2 L946.3,714.1 L947.3,714.1 L948.3,711.7 L949.3,712.2 L950.3,710.0 L951.3,712.1 L952.3,711.3 L953.3,711.7 L954.3,712.1 L955.3,713.4 L956.3,712.6 L957.3,712.5 L958.3,712.0 L959.3,711.4 L960.3,712.5 L961.3,712.5 L962.3,711.8 L963.3,712.0 L964.3,711.4 L965.3,710.6 L966.3,712.1 L967.3,709.9 L968.3,711.8 L969.3,710.6 L970.3,711.5 L971.3,713.5 L972.3,712.5 L973.3,712.7 L974.3,711.5 L975.3,710.5 L976.3,712.8 L977.3,713.0 L978.3,711.3 L979.3,711.5 L980.3,711.6 L981.3,711.5 L982.3,712.6 L983.3,713.1 L984.3,711.5 L985.3,713.9 L986.3,711.1 L987.3,712.5 L988.3,713.0 L989.3,709.9 L990.3,712.1 L991.3,711.4 L992.3,711.9 L993.3,712.5 L994.3,711.8 L995.3,710.3 L996.3,713.2 L997.3,710.8 L998.3,707.0 L999.3,703.3 L1000.3,701.2 L1001.3,698.7 L1002.3,703.7 L1003.3,708.3 L1004.3,718.4 L1005.3,724.1 L1006.3,724.7 L1007.3,722.6 L1008.3,719.6 L1009.3,715.1 L1010.3,712.9 L1011.3,712.7 L1012.3,712.6 L1013.3,710.7 L1014.3,711.6 L1015.3,712.1 L1016.3,711.9 L1017.3,711.3 L1018.3,711.9 L1019.3,711.9 L1020.3,713.3 L1021.3,713.1 L1022.3,711.7 L1023.3,713.6 L1024.3,711.6 L1025.3,711.0 L1026.3,710.8 L1027.3,711.8 L1028.3,714.2 L1029.3,712.6 L1030.3,709.6 L1031.3,711.5 L1032.3,710.9 L1033.3,710.7 L1034.3,713.3 L1035.3,713.1 L1036.3,711.1 L1037.3,712.4 L1038.3,712.6 L1039.3,712.5 L1040.3,713.6 L1041.3,712.8 L1042.3,711.4 L1043.3,712.3 L1044.3,709.8 L1045.3,711.0 L1046.3,712.4 L1047.3,711.8 L1048.3,710.8 L1049.3,710.9 L1050.3,710.9 L1051.3,712.1 L1052.3,710.9 L1053.3,712.2 L1054.3,711.4 L1055.3,712.5 L1056.3,711.1 L1057.3,709.4 L1058.3,711.8 L1059.3,708.2 L1060.3,704.7 L1061.3,700.7 L1062.3,698.7 L1063.3,699.3 L1064.3,708.1 L1065.3,718.9 L1066.3,726.7 L1067.3,725.6 L1068.3,722.3 L1069.3,717.5 L1070.3,713.6 L1071.3,711.8 L1072.3,711.7 L1073.3,711.5 L1074.3,714.6 L1075.3,713.2 L1076.3,713.1 L1077.3,713.0 L1078.3,713.6 L1079.3,710.4 L1080.3,712.0 L1081.3,711.6 L1082.3,713.4 L1083.3,712.3 L1084.3,712.7 L1085.3,712.5 L1086.3,711.9 L1087.3,714.1 L1088.3,712.8 L1089.3,710.0 L1090.3,713.8 L1091.3,710.3 L1092.3,713.8 L1093.3,715.9 L1094.3,710.9 L1095.3,713.5 L1096.3,712.2 L1097.3,711.2 L1098.3,713.4 L1099.3,711.2 L1100.3,711.6 L1101.3,710.9 L1102.3,711.9 L1103.3,711.2 L1104.3,711.1 L1105.3,713.6 L1106.3,713.1 L1107.3,710.9 L1108.3,711.6 L1109.3,711.8 L1110.3,711.2 L1111.3,712.1 L1112.3,711.7 L1113.3,713.2 L1114.3,710.9 L1115.3,712.0 L1116.3,711.8 L1117.3,711.3 L1118.3,713.4 L1119.3,711.3 L1120.3,706.2 L1121.3,708.2 L1122.3,704.3 L1123.3,703.1 L1124.3,704.4 L1125.3,707.9 L1126.3,712.2 L1127.3,716.5 L1128.3,720.2 L1129.3,720.1 L1130.3,718.7 L1131.3,715.5 L1132.3,712.7 L1133.3,713.7 L1134.3,712.5 L1135.3,711.7 L1136.3,712.2 L1137.3,712.3 L1138.3,710.7 L1139.3,712.2 L1140.3,713.0 L1141.3,712.1 L1142.3,712.0 L1143.3,712.7 L1144.3,711.6 L1145.3,712.2 L1146.3,712.5 L1147.3,712.8 L1148.3,711.6 L1149.3,713.2 L1150.3,710.8 L1151.3,713.4 L1152.3,711.6 L1153.3,713.2 L1154.3,714.2 L1155.3,714.2 L1156.3,712.3 L1157.3,711.5 L1158.3,712.4 L1159.3,710.3 L1160.3,713.7 L1161.3,710.0 L1162.3,712.6 L1163.3,710.0 L1164.3,710.8 L1165.3,712.4 L1166.3,710.4 L1167.3,711.3 L1168.3,709.3 L1169.3,713.8 L1170.3,710.8 L1171.3,712.1 L1172.3,712.2 L1173.3,710.6 L1174.3,711.0 L1175.3,712.6 L1176.3,711.9 L1177.3,711.1 L1178.3,712.1 L1179.3,711.0 L1180.3,712.4 L1181.3,712.4 L1182.3,710.6 L1183.3,713.2 L1184.3,712.1 L1185.3,711.8 L1186.3,713.3 L1187.3,711.1 L1188.3,713.1 L1189.3,712.6 L1190.3,713.2 L1191.3,714.6 L1192.3,711.5 L1193.3,712.4 L1194.3,713.0 L1195.3,712.4 L1196.3,712.7 L1197.3,713.2 L1198.3,710.3 L1199.3,711.7 L1200.3,710.9 L1201.3,712.5 L1202.3,710.7 L1203.3,712.2 L1204.3,712.6 L1205.3,712.3 L1206.3,713.7 L1207.3,713.0 L1208.3,711.9 L1209.3,711.5 L1210.3,712.6 L1211.3,714.8 L1212.3,712.0 L1213.3,711.8 L1214.3,709.5 L1215.3,713.0 L1216.3,711.8 L1217.3,710.9 L1218.3,712.8 L1219.3,710.5 L1220.3,714.1 L1221.3,711.4 L1222.3,713.2 L1223.3,712.7 L1224.3,711.8 L1225.3,709.7 L1226.3,712.4 L1227.3,709.9 L1228.3,712.2 L1229.3,713.3 L1230.3,712.4 L1231.3,714.7 L1232.3,713.2 L1233.3,711.9 L1234.3,711.4 L1235.3,712.7 L1236.3,712.3 L1237.3,712.3 L1238.3,714.4 L1239.3,713.6 L1240.3,711.7" stroke="#1a1a4e" stroke-width="2.6" fill="none" stroke-linejoin="round"/>
<rect x="828.30" y="541.00" width="412.50" height="82.00" fill="none" stroke="#000" stroke-width="3"/>
<rect x="828.30" y="669.00" width="412.50" height="82.00" fill="none" stroke="#000" stroke-width="3"/>
<line x1="828.30" y1="751.00" x2="828.30" y2="756.50" stroke="#000" stroke-width="3" />
<line x1="1034.55" y1="751.00" x2="1034.55" y2="756.50" stroke="#000" stroke-width="3" />
<line x1="1240.80" y1="751.00" x2="1240.80" y2="756.50" stroke="#000" stroke-width="3" />
<text x="1241.20" y="526.40" font-size="26" text-anchor="end" fill="#000" >No add FAC</text>
<text x="1242.50" y="654.00" font-size="25.6" text-anchor="end" fill="#000" >Add FAC [Fe] = 0.5 mM</text>
<text x="0" y="0" transform="translate(836.90,757.60) rotate(-90) scale(0.970,1)" font-size="27.5" text-anchor="end" fill="#000" >3455</text>
<text x="0" y="0" transform="translate(1043.10,757.60) rotate(-90) scale(0.970,1)" font-size="27.5" text-anchor="end" fill="#000" >3505</text>
<text x="0" y="0" transform="translate(1249.40,757.60) rotate(-90) scale(0.970,1)" font-size="27.5" text-anchor="end" fill="#000" >3555</text>
<text x="1045.80" y="860.50" font-size="28.7" text-anchor="middle" fill="#000" >Magnetic field (G)</text>
<text x="0" y="0" transform="translate(728.00,786.50) rotate(-90)" font-size="28.4" text-anchor="start" fill="#000" font-style="italic" >E. coli-clIscA1/clCry4</text>
<text x="0" y="0" transform="translate(765.50,777.00) rotate(-90)" font-size="28.5" text-anchor="start" fill="#000" >Normalized intensity</text>
<text x="0" y="0" transform="translate(800.00,778.00) rotate(-90)" font-size="28.8" text-anchor="start" fill="#000" >(arb. unit)</text>
<line x1="162.50" y1="1079.00" x2="574.70" y2="1079.00" stroke="#45456a" stroke-width="2.6" stroke-dasharray="7.4,3.1"/>
<line x1="368.40" y1="935.00" x2="368.40" y2="1223.00" stroke="#45456a" stroke-width="2.6" stroke-dasharray="7.4,3.1"/>
<rect x="162.50" y="935.00" width="412.20" height="288.00" fill="none" stroke="#29294d" stroke-width="2.8"/>
<line x1="157.00" y1="935.00" x2="162.50" y2="935.00" stroke="#1c1c28" stroke-width="2.5" />
<text x="155.60" y="943.90" font-size="26" text-anchor="end" fill="#000" >12</text>
<line x1="157.00" y1="983.00" x2="162.50" y2="983.00" stroke="#1c1c28" stroke-width="2.5" />
<text x="155.60" y="991.90" font-size="26" text-anchor="end" fill="#000" >8</text>
<line x1="157.00" y1="1031.00" x2="162.50" y2="1031.00" stroke="#1c1c28" stroke-width="2.5" />
<text x="155.60" y="1039.90" font-size="26" text-anchor="end" fill="#000" >4</text>
<line x1="157.00" y1="1079.00" x2="162.50" y2="1079.00" stroke="#1c1c28" stroke-width="2.5" />
<text x="155.60" y="1087.90" font-size="26" text-anchor="end" fill="#000" >0</text>
<line x1="157.00" y1="1127.00" x2="162.50" y2="1127.00" stroke="#1c1c28" stroke-width="2.5" />
<text x="155.60" y="1135.90" font-size="26" text-anchor="end" fill="#000" >-4</text>
<line x1="157.00" y1="1175.00" x2="162.50" y2="1175.00" stroke="#1c1c28" stroke-width="2.5" />
<text x="155.60" y="1183.90" font-size="26" text-anchor="end" fill="#000" >-8</text>
<line x1="157.00" y1="1223.00" x2="162.50" y2="1223.00" stroke="#1c1c28" stroke-width="2.5" />
<text x="155.60" y="1231.90" font-size="26" text-anchor="end" fill="#000" >-12</text>
<line x1="172.50" y1="1223.00" x2="172.50" y2="1228.50" stroke="#1c1c28" stroke-width="2.5" />
<text x="0" y="0" transform="translate(180.10,1230.00) rotate(-90)" font-size="26" text-anchor="end" fill="#000" >-100</text>
<line x1="270.45" y1="1223.00" x2="270.45" y2="1228.50" stroke="#1c1c28" stroke-width="2.5" />
<text x="0" y="0" transform="translate(278.05,1230.00) rotate(-90)" font-size="26" text-anchor="end" fill="#000" >-50</text>
<line x1="368.40" y1="1223.00" x2="368.40" y2="1228.50" stroke="#1c1c28" stroke-width="2.5" />
<text x="0" y="0" transform="translate(376.00,1230.00) rotate(-90)" font-size="26" text-anchor="end" fill="#000" >0</text>
<line x1="466.35" y1="1223.00" x2="466.35" y2="1228.50" stroke="#1c1c28" stroke-width="2.5" />
<text x="0" y="0" transform="translate(473.95,1230.00) rotate(-90)" font-size="26" text-anchor="end" fill="#000" >50</text>
<line x1="564.30" y1="1223.00" x2="564.30" y2="1228.50" stroke="#1c1c28" stroke-width="2.5" />
<text x="0" y="0" transform="translate(571.90,1230.00) rotate(-90)" font-size="26" text-anchor="end" fill="#000" >100</text>
<text x="0" y="0" transform="translate(375.80,1305.80) scale(1.030,1)" font-size="28.5" text-anchor="middle" fill="#000" >H (Oe)</text>
<text x="0" y="0" transform="translate(601.50,935.00) rotate(-90)" font-size="25.7" text-anchor="end" fill="#4a4a6e" >No add FAC</text>
<text x="0" y="0" transform="translate(60.80,1006.40) rotate(-90)" font-size="28" text-anchor="start" fill="#000" font-style="italic" >E. coli</text>
<text x="0" y="0" transform="translate(107.30,1140.40) rotate(-90)" font-size="28.5" text-anchor="start" fill="#4a4a6e" >M × 10<tspan dy="-10" font-size="21.5">-5</tspan><tspan dy="10"> (emu/g)</tspan></text>
<line x1="172.50" y1="1030.10" x2="565.60" y2="1128.80" stroke="#1f1f36" stroke-width="3.8" stroke-linecap="round"/>
<line x1="830.00" y1="1077.55" x2="1243.50" y2="1077.55" stroke="#9c5258" stroke-width="2.6" stroke-dasharray="7.4,3.1"/>
<line x1="1036.30" y1="933.40" x2="1036.30" y2="1221.70" stroke="#9c5258" stroke-width="2.6" stroke-dasharray="7.4,3.1"/>
<rect x="830.00" y="933.40" width="413.50" height="288.30" fill="none" stroke="#b8403d" stroke-width="2.8"/>
<line x1="824.50" y1="933.40" x2="830.00" y2="933.40" stroke="#b8403d" stroke-width="2.5" />
<text x="823.10" y="942.30" font-size="26" text-anchor="end" fill="#000" >12</text>
<line x1="824.50" y1="981.45" x2="830.00" y2="981.45" stroke="#b8403d" stroke-width="2.5" />
<text x="823.10" y="990.35" font-size="26" text-anchor="end" fill="#000" >8</text>
<line x1="824.50" y1="1029.50" x2="830.00" y2="1029.50" stroke="#b8403d" stroke-width="2.5" />
<text x="823.10" y="1038.40" font-size="26" text-anchor="end" fill="#000" >4</text>
<line x1="824.50" y1="1077.55" x2="830.00" y2="1077.55" stroke="#b8403d" stroke-width="2.5" />
<text x="823.10" y="1086.45" font-size="26" text-anchor="end" fill="#000" >0</text>
<line x1="824.50" y1="1125.60" x2="830.00" y2="1125.60" stroke="#b8403d" stroke-width="2.5" />
<text x="823.10" y="1134.50" font-size="26" text-anchor="end" fill="#000" >-4</text>
<line x1="824.50" y1="1173.65" x2="830.00" y2="1173.65" stroke="#b8403d" stroke-width="2.5" />
<text x="823.10" y="1182.55" font-size="26" text-anchor="end" fill="#000" >-8</text>
<line x1="824.50" y1="1221.70" x2="830.00" y2="1221.70" stroke="#b8403d" stroke-width="2.5" />
<text x="823.10" y="1230.60" font-size="26" text-anchor="end" fill="#000" >-12</text>
<line x1="839.70" y1="1221.70" x2="839.70" y2="1227.20" stroke="#b8403d" stroke-width="2.5" />
<text x="0" y="0" transform="translate(847.30,1228.70) rotate(-90)" font-size="26" text-anchor="end" fill="#000" >-100</text>
<line x1="938.00" y1="1221.70" x2="938.00" y2="1227.20" stroke="#b8403d" stroke-width="2.5" />
<text x="0" y="0" transform="translate(945.60,1228.70) rotate(-90)" font-size="26" text-anchor="end" fill="#000" >-50</text>
<line x1="1036.30" y1="1221.70" x2="1036.30" y2="1227.20" stroke="#b8403d" stroke-width="2.5" />
<text x="0" y="0" transform="translate(1043.90,1228.70) rotate(-90)" font-size="26" text-anchor="end" fill="#000" >0</text>
<line x1="1134.60" y1="1221.70" x2="1134.60" y2="1227.20" stroke="#b8403d" stroke-width="2.5" />
<text x="0" y="0" transform="translate(1142.20,1228.70) rotate(-90)" font-size="26" text-anchor="end" fill="#000" >50</text>
<line x1="1232.90" y1="1221.70" x2="1232.90" y2="1227.20" stroke="#b8403d" stroke-width="2.5" />
<text x="0" y="0" transform="translate(1240.50,1228.70) rotate(-90)" font-size="26" text-anchor="end" fill="#000" >100</text>
<text x="0" y="0" transform="translate(1043.70,1302.90) scale(1.030,1)" font-size="28.5" text-anchor="middle" fill="#000" >H (Oe)</text>
<text x="0" y="0" transform="translate(1273.60,929.90) rotate(-90)" font-size="25.7" text-anchor="end" fill="#ad4a48" >Add FAC [Fe] = 0.5 mM</text>
<text x="0" y="0" transform="translate(728.20,1006.00) rotate(-90)" font-size="28" text-anchor="start" fill="#000" font-style="italic" >E. coli</text>
<text x="0" y="0" transform="translate(775.50,1139.40) rotate(-90)" font-size="28.5" text-anchor="start" fill="#ad4a48" >M × 10<tspan dy="-10" font-size="21.5">-5</tspan><tspan dy="10"> (emu/g)</tspan></text>
<line x1="839.80" y1="1015.40" x2="1234.30" y2="1140.80" stroke="#a83836" stroke-width="4.5" stroke-linecap="round"/>
<line x1="163.60" y1="1494.15" x2="578.00" y2="1494.15" stroke="#45456a" stroke-width="2.6" stroke-dasharray="7.4,3.1"/>
<line x1="371.15" y1="1350.00" x2="371.15" y2="1638.30" stroke="#45456a" stroke-width="2.6" stroke-dasharray="7.4,3.1"/>
<rect x="163.60" y="1350.00" width="414.40" height="288.30" fill="none" stroke="#29294d" stroke-width="2.8"/>
<line x1="158.10" y1="1350.00" x2="163.60" y2="1350.00" stroke="#1c1c28" stroke-width="2.5" />
<text x="156.70" y="1358.90" font-size="26" text-anchor="end" fill="#000" >12</text>
<line x1="158.10" y1="1398.05" x2="163.60" y2="1398.05" stroke="#1c1c28" stroke-width="2.5" />
<text x="156.70" y="1406.95" font-size="26" text-anchor="end" fill="#000" >8</text>
<line x1="158.10" y1="1446.10" x2="163.60" y2="1446.10" stroke="#1c1c28" stroke-width="2.5" />
<text x="156.70" y="1455.00" font-size="26" text-anchor="end" fill="#000" >4</text>
<line x1="158.10" y1="1494.15" x2="163.60" y2="1494.15" stroke="#1c1c28" stroke-width="2.5" />
<text x="156.70" y="1503.05" font-size="26" text-anchor="end" fill="#000" >0</text>
<line x1="158.10" y1="1542.20" x2="163.60" y2="1542.20" stroke="#1c1c28" stroke-width="2.5" />
<text x="156.70" y="1551.10" font-size="26" text-anchor="end" fill="#000" >-4</text>
<line x1="158.10" y1="1590.25" x2="163.60" y2="1590.25" stroke="#1c1c28" stroke-width="2.5" />
<text x="156.70" y="1599.15" font-size="26" text-anchor="end" fill="#000" >-8</text>
<line x1="158.10" y1="1638.30" x2="163.60" y2="1638.30" stroke="#1c1c28" stroke-width="2.5" />
<text x="156.70" y="1647.20" font-size="26" text-anchor="end" fill="#000" >-12</text>
<line x1="174.40" y1="1638.30" x2="174.40" y2="1643.80" stroke="#1c1c28" stroke-width="2.5" />
<text x="0" y="0" transform="translate(182.00,1645.30) rotate(-90)" font-size="26" text-anchor="end" fill="#000" >-100</text>
<line x1="272.77" y1="1638.30" x2="272.77" y2="1643.80" stroke="#1c1c28" stroke-width="2.5" />
<text x="0" y="0" transform="translate(280.38,1645.30) rotate(-90)" font-size="26" text-anchor="end" fill="#000" >-50</text>
<line x1="371.15" y1="1638.30" x2="371.15" y2="1643.80" stroke="#1c1c28" stroke-width="2.5" />
<text x="0" y="0" transform="translate(378.75,1645.30) rotate(-90)" font-size="26" text-anchor="end" fill="#000" >0</text>
<line x1="469.52" y1="1638.30" x2="469.52" y2="1643.80" stroke="#1c1c28" stroke-width="2.5" />
<text x="0" y="0" transform="translate(477.12,1645.30) rotate(-90)" font-size="26" text-anchor="end" fill="#000" >50</text>
<line x1="567.90" y1="1638.30" x2="567.90" y2="1643.80" stroke="#1c1c28" stroke-width="2.5" />
<text x="0" y="0" transform="translate(575.50,1645.30) rotate(-90)" font-size="26" text-anchor="end" fill="#000" >100</text>
<text x="0" y="0" transform="translate(378.55,1721.00) scale(1.030,1)" font-size="28.5" text-anchor="middle" fill="#000" >H (Oe)</text>
<text x="0" y="0" transform="translate(604.80,1350.00) rotate(-90)" font-size="25.7" text-anchor="end" fill="#4a4a6e" >No add FAC</text>
<text x="0" y="0" transform="translate(59.80,1618.60) rotate(-90)" font-size="28.4" text-anchor="start" fill="#000" font-style="italic" >E. coli-clMagR/clCry4</text>
<text x="0" y="0" transform="translate(108.90,1555.60) rotate(-90)" font-size="28.5" text-anchor="start" fill="#4a4a6e" >M × 10<tspan dy="-10" font-size="21.5">-5</tspan><tspan dy="10"> (emu/g)</tspan></text>
<line x1="174.50" y1="1404.90" x2="567.90" y2="1582.50" stroke="#1f1f36" stroke-width="4.2" stroke-linecap="round"/>
<line x1="831.20" y1="1496.00" x2="1243.50" y2="1496.00" stroke="#9c5258" stroke-width="2.6" stroke-dasharray="7.4,3.1"/>
<line x1="1036.40" y1="1352.00" x2="1036.40" y2="1640.00" stroke="#9c5258" stroke-width="2.6" stroke-dasharray="7.4,3.1"/>
<rect x="831.20" y="1352.00" width="412.30" height="288.00" fill="none" stroke="#b8403d" stroke-width="2.8"/>
<line x1="825.70" y1="1352.00" x2="831.20" y2="1352.00" stroke="#b8403d" stroke-width="2.5" />
<text x="824.30" y="1360.90" font-size="26" text-anchor="end" fill="#000" >12</text>
<line x1="825.70" y1="1400.00" x2="831.20" y2="1400.00" stroke="#b8403d" stroke-width="2.5" />
<text x="824.30" y="1408.90" font-size="26" text-anchor="end" fill="#000" >8</text>
<line x1="825.70" y1="1448.00" x2="831.20" y2="1448.00" stroke="#b8403d" stroke-width="2.5" />
<text x="824.30" y="1456.90" font-size="26" text-anchor="end" fill="#000" >4</text>
<line x1="825.70" y1="1496.00" x2="831.20" y2="1496.00" stroke="#b8403d" stroke-width="2.5" />
<text x="824.30" y="1504.90" font-size="26" text-anchor="end" fill="#000" >0</text>
<line x1="825.70" y1="1544.00" x2="831.20" y2="1544.00" stroke="#b8403d" stroke-width="2.5" />
<text x="824.30" y="1552.90" font-size="26" text-anchor="end" fill="#000" >-4</text>
<line x1="825.70" y1="1592.00" x2="831.20" y2="1592.00" stroke="#b8403d" stroke-width="2.5" />
<text x="824.30" y="1600.90" font-size="26" text-anchor="end" fill="#000" >-8</text>
<line x1="825.70" y1="1640.00" x2="831.20" y2="1640.00" stroke="#b8403d" stroke-width="2.5" />
<text x="824.30" y="1648.90" font-size="26" text-anchor="end" fill="#000" >-12</text>
<line x1="839.80" y1="1640.00" x2="839.80" y2="1645.50" stroke="#b8403d" stroke-width="2.5" />
<text x="0" y="0" transform="translate(847.40,1647.00) rotate(-90)" font-size="26" text-anchor="end" fill="#000" >-100</text>
<line x1="938.10" y1="1640.00" x2="938.10" y2="1645.50" stroke="#b8403d" stroke-width="2.5" />
<text x="0" y="0" transform="translate(945.70,1647.00) rotate(-90)" font-size="26" text-anchor="end" fill="#000" >-50</text>
<line x1="1036.40" y1="1640.00" x2="1036.40" y2="1645.50" stroke="#b8403d" stroke-width="2.5" />
<text x="0" y="0" transform="translate(1044.00,1647.00) rotate(-90)" font-size="26" text-anchor="end" fill="#000" >0</text>
<line x1="1134.70" y1="1640.00" x2="1134.70" y2="1645.50" stroke="#b8403d" stroke-width="2.5" />
<text x="0" y="0" transform="translate(1142.30,1647.00) rotate(-90)" font-size="26" text-anchor="end" fill="#000" >50</text>
<line x1="1233.00" y1="1640.00" x2="1233.00" y2="1645.50" stroke="#b8403d" stroke-width="2.5" />
<text x="0" y="0" transform="translate(1240.60,1647.00) rotate(-90)" font-size="26" text-anchor="end" fill="#000" >100</text>
<text x="0" y="0" transform="translate(1043.80,1721.00) scale(1.030,1)" font-size="28.5" text-anchor="middle" fill="#000" >H (Oe)</text>
<text x="0" y="0" transform="translate(1273.60,1348.20) rotate(-90)" font-size="25.7" text-anchor="end" fill="#ad4a48" >Add FAC [Fe] = 0.5 mM</text>
<text x="0" y="0" transform="translate(727.40,1619.00) rotate(-90)" font-size="28.4" text-anchor="start" fill="#000" font-style="italic" >E. coli-clMagR/clCry4</text>
<text x="0" y="0" transform="translate(775.50,1556.70) rotate(-90)" font-size="28.5" text-anchor="start" fill="#ad4a48" >M × 10<tspan dy="-10" font-size="21.5">-3</tspan><tspan dy="10"> (emu/g)</tspan></text>
<path d="M839.8,1570.4 L843.7,1568.3 L847.7,1566.5 L851.6,1564.7 L855.5,1563.0 L859.5,1561.3 L863.4,1559.6 L867.3,1557.9 L871.3,1556.2 L875.2,1554.6 L879.1,1552.9 L883.1,1551.3 L887.0,1549.7 L890.9,1548.1 L894.8,1546.5 L898.8,1544.9 L902.7,1543.3 L906.6,1541.7 L910.6,1540.1 L914.5,1538.5 L918.4,1537.0 L922.4,1535.4 L926.3,1533.8 L930.2,1532.3 L934.2,1530.7 L938.1,1529.2 L942.0,1527.7 L946.0,1526.1 L949.9,1524.6 L953.8,1523.1 L957.8,1521.5 L961.7,1520.0 L965.6,1518.5 L969.6,1517.0 L973.5,1515.5 L977.4,1514.0 L981.4,1512.5 L985.3,1511.0 L989.2,1509.5 L993.1,1508.0 L997.1,1506.5 L1001.0,1505.0 L1004.9,1503.5 L1008.9,1502.0 L1012.8,1500.6 L1016.7,1499.1 L1020.7,1497.6 L1024.6,1496.2 L1028.5,1494.7 L1032.5,1493.3 L1036.4,1491.8 L1040.3,1490.3 L1044.3,1488.9 L1048.2,1487.5 L1052.1,1486.0 L1056.1,1484.6 L1060.0,1483.1 L1063.9,1481.7 L1067.9,1480.3 L1071.8,1478.9 L1075.7,1477.4 L1079.7,1476.0 L1083.6,1474.6 L1087.5,1473.2 L1091.4,1471.8 L1095.4,1470.4 L1099.3,1469.0 L1103.2,1467.6 L1107.2,1466.2 L1111.1,1464.8 L1115.0,1463.4 L1119.0,1462.1 L1122.9,1460.7 L1126.8,1459.3 L1130.8,1458.0 L1134.7,1456.6 L1138.6,1455.2 L1142.6,1453.9 L1146.5,1452.5 L1150.4,1451.2 L1154.4,1449.8 L1158.3,1448.5 L1162.2,1447.2 L1166.2,1445.9 L1170.1,1444.5 L1174.0,1443.2 L1178.0,1441.9 L1181.9,1440.6 L1185.8,1439.3 L1189.7,1438.1 L1193.7,1436.8 L1197.6,1435.5 L1201.5,1434.3 L1205.5,1433.0 L1209.4,1431.8 L1213.3,1430.6 L1217.3,1429.4 L1221.2,1428.2 L1225.1,1427.1 L1229.1,1426.0 L1233.0,1425.2 L1233.0,1425.2 L1229.1,1427.3 L1225.1,1429.1 L1221.2,1430.9 L1217.3,1432.6 L1213.3,1434.3 L1209.4,1436.0 L1205.5,1437.7 L1201.5,1439.4 L1197.6,1441.0 L1193.7,1442.7 L1189.7,1444.3 L1185.8,1445.9 L1181.9,1447.5 L1178.0,1449.1 L1174.0,1450.7 L1170.1,1452.3 L1166.2,1453.9 L1162.2,1455.5 L1158.3,1457.1 L1154.4,1458.6 L1150.4,1460.2 L1146.5,1461.8 L1142.6,1463.3 L1138.6,1464.9 L1134.7,1466.4 L1130.8,1467.9 L1126.8,1469.5 L1122.9,1471.0 L1119.0,1472.5 L1115.0,1474.1 L1111.1,1475.6 L1107.2,1477.1 L1103.2,1478.6 L1099.3,1480.1 L1095.4,1481.6 L1091.4,1483.1 L1087.5,1484.6 L1083.6,1486.1 L1079.7,1487.6 L1075.7,1489.1 L1071.8,1490.6 L1067.9,1492.1 L1063.9,1493.6 L1060.0,1495.0 L1056.1,1496.5 L1052.1,1498.0 L1048.2,1499.4 L1044.3,1500.9 L1040.3,1502.3 L1036.4,1503.8 L1032.5,1505.3 L1028.5,1506.7 L1024.6,1508.1 L1020.7,1509.6 L1016.7,1511.0 L1012.8,1512.5 L1008.9,1513.9 L1004.9,1515.3 L1001.0,1516.7 L997.1,1518.2 L993.1,1519.6 L989.2,1521.0 L985.3,1522.4 L981.4,1523.8 L977.4,1525.2 L973.5,1526.6 L969.6,1528.0 L965.6,1529.4 L961.7,1530.8 L957.8,1532.2 L953.8,1533.5 L949.9,1534.9 L946.0,1536.3 L942.0,1537.6 L938.1,1539.0 L934.2,1540.4 L930.2,1541.7 L926.3,1543.1 L922.4,1544.4 L918.4,1545.8 L914.5,1547.1 L910.6,1548.4 L906.6,1549.7 L902.7,1551.1 L898.8,1552.4 L894.8,1553.7 L890.9,1555.0 L887.0,1556.3 L883.1,1557.5 L879.1,1558.8 L875.2,1560.1 L871.3,1561.3 L867.3,1562.6 L863.4,1563.8 L859.5,1565.0 L855.5,1566.2 L851.6,1567.4 L847.7,1568.5 L843.7,1569.6 L839.8,1570.4 Z" stroke="#a83836" stroke-width="2.8" fill="none" stroke-linejoin="round"/>
</svg>
</body></html>
